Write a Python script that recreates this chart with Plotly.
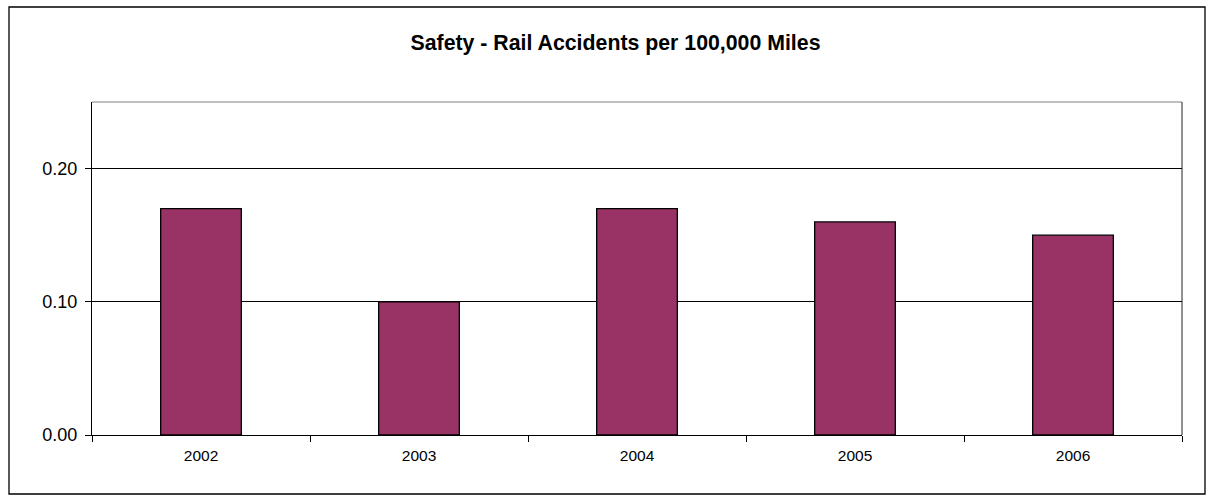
import plotly.graph_objects as go

years = ["2002", "2003", "2004", "2005", "2006"]
accidents = [0.17, 0.10, 0.17, 0.16, 0.15]
y_ticks = [0.0, 0.1, 0.2]

W, H = 1214, 503
L, R, T, B = 92, 32, 102, 68
pw, ph = W - L - R, H - T - B

fig = go.Figure(go.Bar(
    x=years, y=accidents,
    marker=dict(color="#993366", line=dict(color="black", width=1.3)),
    width=0.37,
))

def px_to_paper_x(px):
    return (px - L) / pw

def px_to_paper_y(py):
    return (H - B - py) / ph

fig.update_layout(
    width=W, height=H,
    margin=dict(l=L, r=R, t=T, b=B, autoexpand=False),
    paper_bgcolor="white", plot_bgcolor="white",
    showlegend=False,
    title=dict(text="<b>Safety - Rail Accidents per 100,000 Miles</b>",
               x=615.5 / W, xanchor="center", y=1 - 43 / H, yanchor="middle",
               font=dict(family="Liberation Sans, Arial", size=21.3, color="black")),
    font=dict(family="Liberation Sans, Arial", color="black"),
    xaxis=dict(type="category", showline=True, linecolor="black", linewidth=1,
               ticks="outside", tickson="boundaries", ticklen=6, tickcolor="black",
               tickfont=dict(size=15.5), ticklabelstandoff=6, showgrid=False),
    yaxis=dict(range=[0, 0.25], tickvals=y_ticks, tickformat=".2f",
               showline=True, linecolor="black", linewidth=1,
               ticks="outside", ticklen=6, tickcolor="black",
               tickfont=dict(size=18), ticklabelstandoff=4,
               showgrid=True, gridcolor="black", gridwidth=1, zeroline=False),
    shapes=[
        dict(type="line", xref="paper", yref="paper", x0=0, x1=1, y0=1, y1=1,
             line=dict(color="#808080", width=1), layer="below"),
        dict(type="line", xref="paper", yref="paper", x0=1, x1=1, y0=0, y1=1,
             line=dict(color="#222222", width=1), layer="below"),
        dict(type="rect", xref="paper", yref="paper",
             x0=px_to_paper_x(9), x1=px_to_paper_x(1205),
             y0=px_to_paper_y(494), y1=px_to_paper_y(7),
             line=dict(color="black", width=1.3), layer="below"),
    ],
)

fig.write_html("out.html", config={"displayModeBar": False},
               post_script="document.body.style.margin='0';document.body.style.overflow='hidden';")
